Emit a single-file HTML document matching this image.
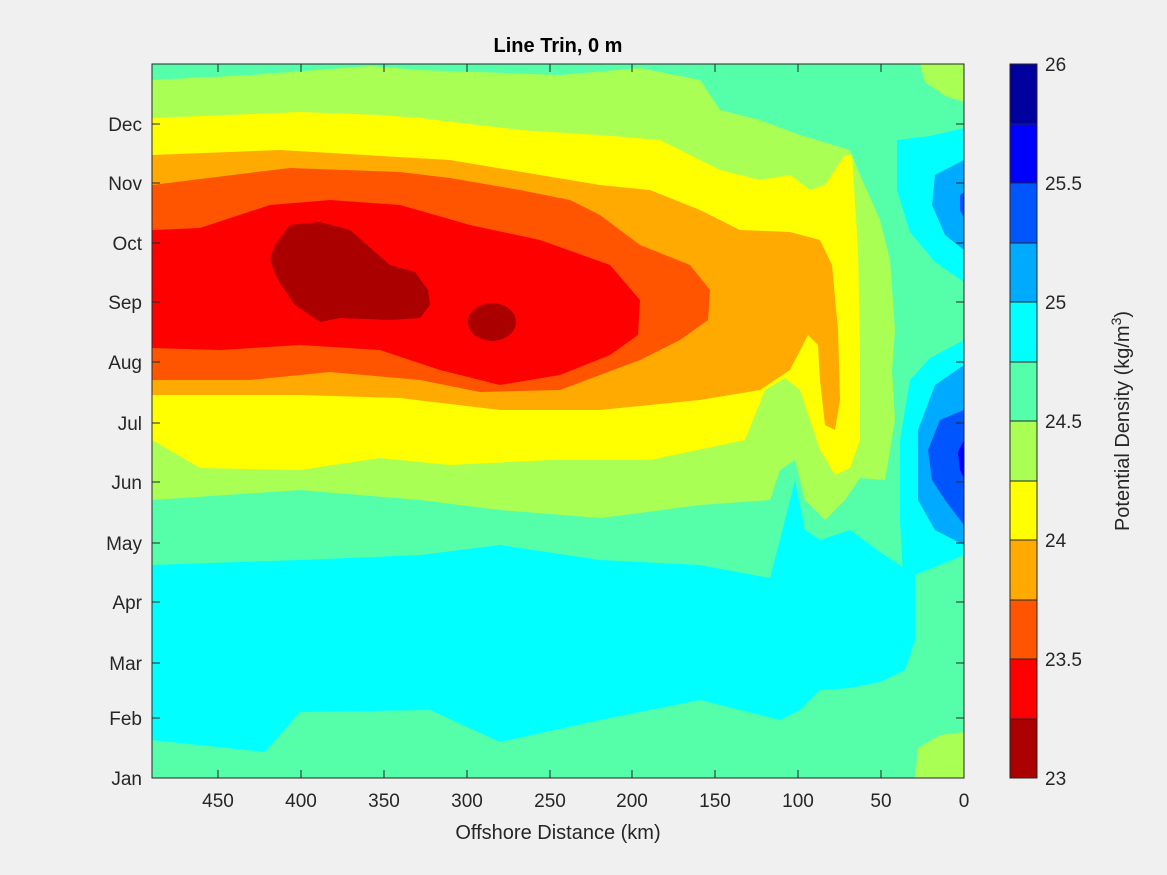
<!DOCTYPE html>
<html><head><meta charset="utf-8"><style>
html,body{margin:0;padding:0;background:#f0f0f0;}
svg{display:block;font-family:"Liberation Sans","DejaVu Sans",sans-serif;}
</style></head><body>
<svg width="1167" height="875" viewBox="0 0 1167 875" xmlns="http://www.w3.org/2000/svg">
<rect width="1167" height="875" fill="#f0f0f0"/>
<defs><clipPath id="c"><rect x="152" y="64" width="812" height="714"/></clipPath></defs>
<g clip-path="url(#c)">
<rect x="152" y="64" width="812" height="714" fill="#55ffaa"/>
<!-- lower cyan -->
<polygon fill="#00ffff" points="152,565 300,560 420,555 500,545 600,560 700,565 770,578 785,520 795,480 805,530 820,540 850,530 880,552 915,575 915,640 905,670 880,682 850,688 820,690 800,710 780,720 700,700 600,720 500,742 430,710 300,712 265,752 152,740"/>
<!-- green upper -->
<polygon fill="#aaff55" points="152,80 250,75 370,66 420,70 560,75 640,68 700,80 720,110 760,120 800,135 850,150 860,175 880,220 890,260 895,330 892,370 895,420 885,480 860,478 845,500 825,520 805,500 795,460 780,470 770,500 700,505 600,518 500,510 420,500 300,490 152,500"/>
<!-- yellow -->
<polygon fill="#ffff00" points="152,118 300,112 380,115 420,118 520,130 600,135 660,140 720,170 760,180 790,175 810,190 825,185 845,155 852,155 858,250 860,350 860,440 850,468 835,475 820,450 810,420 800,390 785,378 765,390 745,440 650,460 550,460 450,465 380,458 300,470 200,468 152,440"/>
<!-- orange -->
<polygon fill="#ffaa00" points="152,155 280,150 450,160 540,175 600,185 650,190 700,210 740,230 790,232 820,240 832,265 838,330 840,400 835,430 825,425 820,380 818,345 808,335 790,370 760,390 700,400 600,410 500,410 400,398 300,395 152,395"/>
<!-- orange-red -->
<polygon fill="#ff5500" points="152,185 290,168 400,172 450,178 520,190 570,200 600,215 640,245 690,265 710,290 708,320 680,340 640,360 560,390 480,392 420,380 330,372 250,380 152,380"/>
<!-- red -->
<polygon fill="#ff0000" points="152,230 200,228 270,205 330,200 400,205 470,225 540,240 610,265 640,300 638,335 610,355 560,375 500,385 440,370 380,350 300,345 220,350 152,348"/>
<!-- dark red -->
<polygon fill="#aa0000" points="275,245 290,225 320,222 350,230 390,265 415,272 428,290 430,305 420,318 390,320 340,318 320,322 295,305 278,280 270,260"/>
<ellipse fill="#aa0000" cx="492" cy="322" rx="24" ry="19"/>
<!-- right blues upper -->
<polygon fill="#00ffff" points="897,140 930,136 964,128 964,282 935,262 910,232 897,190"/>
<polygon fill="#00aaff" points="935,175 964,160 964,250 945,235 932,205"/>
<polygon fill="#0055ff" points="960,195 964,192 964,218 960,210"/>
<!-- right blues lower -->
<polygon fill="#00ffff" points="964,340 930,358 910,380 900,440 900,520 903,575 915,575 964,555"/>
<polygon fill="#00aaff" points="964,365 935,385 918,430 918,500 935,530 964,545"/>
<polygon fill="#0055ff" points="964,410 940,420 928,450 932,480 945,500 964,525"/>
<polygon fill="#0000ff" points="964,440 958,452 960,470 964,478"/>
<!-- corner patches -->
<polygon fill="#aaff55" points="915,778 918,748 940,735 964,732 964,778"/>
<polygon fill="#aaff55" points="920,64 964,64 964,102 945,96 925,82"/>
</g>
<rect x="152" y="64" width="812" height="714" fill="none" stroke="#262626" stroke-width="1"/>
<g stroke="#262626" stroke-width="1">
<path d="M152,124h8M152,183h8M152,243h8M152,302h8M152,362h8M152,423h8M152,482h8M152,543h8M152,602h8M152,663h8M152,718h8
M964,124h-8M964,183h-8M964,243h-8M964,302h-8M964,362h-8M964,423h-8M964,482h-8M964,543h-8M964,602h-8M964,663h-8M964,718h-8
M218,778v-8M301,778v-8M384,778v-8M467,778v-8M550,778v-8M632,778v-8M715,778v-8M798,778v-8M881,778v-8
M218,64v8M301,64v8M384,64v8M467,64v8M550,64v8M632,64v8M715,64v8M798,64v8M881,64v8"/>
</g>
<g font-size="19" fill="#262626" text-anchor="end">
<text x="142" y="131">Dec</text><text x="142" y="190">Nov</text><text x="142" y="250">Oct</text>
<text x="142" y="309">Sep</text><text x="142" y="369">Aug</text><text x="142" y="430">Jul</text>
<text x="142" y="489">Jun</text><text x="142" y="550">May</text><text x="142" y="609">Apr</text>
<text x="142" y="670">Mar</text><text x="142" y="725">Feb</text><text x="142" y="785">Jan</text>
</g>
<g font-size="19" fill="#262626" text-anchor="middle">
<text x="218" y="807">450</text><text x="301" y="807">400</text><text x="384" y="807">350</text>
<text x="467" y="807">300</text><text x="550" y="807">250</text><text x="632" y="807">200</text>
<text x="715" y="807">150</text><text x="798" y="807">100</text><text x="881" y="807">50</text><text x="964" y="807">0</text>
<text x="558" y="839" font-size="20">Offshore Distance (km)</text>
<text x="558" y="52" font-size="20" font-weight="bold" fill="#000">Line Trin, 0 m</text>
</g>
<!-- colorbar -->
<g>
<rect x="1010" y="64" width="27" height="60" fill="#00009f"/>
<rect x="1010" y="123.5" width="27" height="60" fill="#0000ff"/>
<rect x="1010" y="183" width="27" height="60" fill="#0055ff"/>
<rect x="1010" y="242.5" width="27" height="60" fill="#00aaff"/>
<rect x="1010" y="302" width="27" height="60" fill="#00ffff"/>
<rect x="1010" y="361.5" width="27" height="60" fill="#55ffaa"/>
<rect x="1010" y="421" width="27" height="60" fill="#aaff55"/>
<rect x="1010" y="480.5" width="27" height="60" fill="#ffff00"/>
<rect x="1010" y="540" width="27" height="60" fill="#ffaa00"/>
<rect x="1010" y="599.5" width="27" height="60" fill="#ff5500"/>
<rect x="1010" y="659" width="27" height="60" fill="#ff0000"/>
<rect x="1010" y="718.5" width="27" height="59.5" fill="#aa0000"/>
<rect x="1010" y="64" width="27" height="714" fill="none" stroke="#262626"/>
<path stroke="#262626" d="M1010,124h27M1010,183h27M1010,243h27M1010,302h27M1010,362h27M1010,421h27M1010,481h27M1010,540h27M1010,600h27M1010,659h27M1010,719h27"/>
</g>
<g font-size="19" fill="#262626">
<text x="1045" y="71">26</text><text x="1045" y="190">25.5</text><text x="1045" y="309">25</text>
<text x="1045" y="428">24.5</text><text x="1045" y="547">24</text><text x="1045" y="666">23.5</text><text x="1045" y="785">23</text>
<text transform="translate(1129,421) rotate(-90)" text-anchor="middle" font-size="20">Potential Density (kg/m<tspan dy="-8" font-size="14">3</tspan><tspan dy="8">)</tspan></text>
</g>
</svg>
</body></html>
